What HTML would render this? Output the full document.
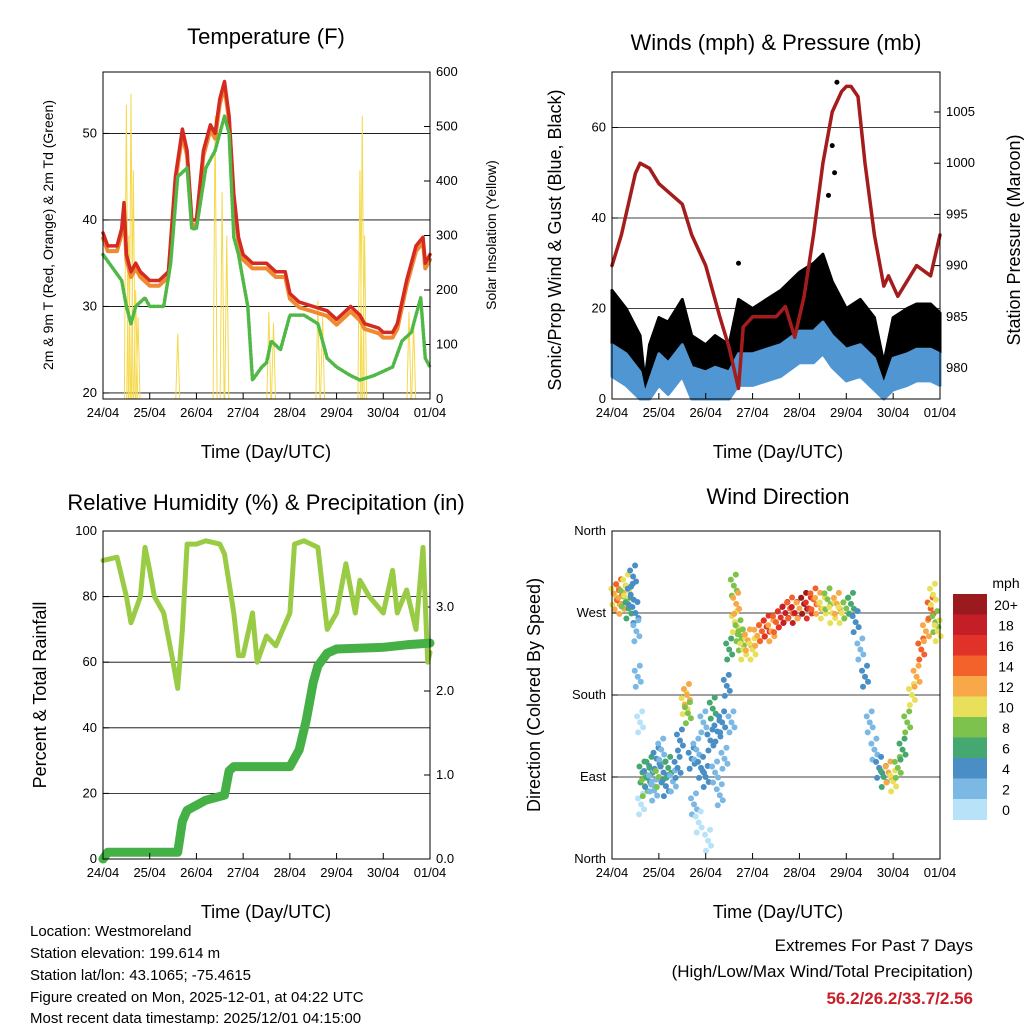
<!DOCTYPE html>
<html><head><meta charset="utf-8"><style>
body{margin:0;background:#fff}
svg{display:block;font-family:"Liberation Sans",sans-serif}
</style></head><body>
<svg id="s" width="1024" height="1024" xmlns="http://www.w3.org/2000/svg">
<rect width="1024" height="1024" fill="#fff"/>
<g id="g"></g>
<text x="266" y="44" font-size="22" text-anchor="middle">Temperature (F)</text>
<text x="776" y="50" font-size="22" text-anchor="middle">Winds (mph) &amp; Pressure (mb)</text>
<text x="266" y="510" font-size="22" text-anchor="middle">Relative Humidity (%) &amp; Precipitation (in)</text>
<text x="778" y="504" font-size="22" text-anchor="middle">Wind Direction</text>
<text x="266" y="458" font-size="18" text-anchor="middle">Time (Day/UTC)</text>
<text x="778" y="458" font-size="18" text-anchor="middle">Time (Day/UTC)</text>
<text x="266" y="918" font-size="18" text-anchor="middle">Time (Day/UTC)</text>
<text x="778" y="918" font-size="18" text-anchor="middle">Time (Day/UTC)</text>
<text transform="translate(53,235) rotate(-90)" font-size="14" text-anchor="middle">2m &amp; 9m T (Red, Orange) &amp; 2m Td (Green)</text>
<text transform="translate(496,235) rotate(-90)" font-size="14" text-anchor="middle">Solar Insolation (Yellow)</text>
<text transform="translate(561,240) rotate(-90)" font-size="18" text-anchor="middle">Sonic/Prop Wind &amp; Gust (Blue, Black)</text>
<text transform="translate(1020,240) rotate(-90)" font-size="18" text-anchor="middle">Station Pressure (Maroon)</text>
<text transform="translate(46,695) rotate(-90)" font-size="18" text-anchor="middle">Percent &amp; Total Rainfall</text>
<text transform="translate(540,695) rotate(-90)" font-size="18" text-anchor="middle">Direction (Colored By Speed)</text>
<g font-size="15">
<text x="30" y="936">Location: Westmoreland</text>
<text x="30" y="958">Station elevation: 199.614 m</text>
<text x="30" y="980">Station lat/lon: 43.1065; -75.4615</text>
<text x="30" y="1002">Figure created on Mon, 2025-12-01, at 04:22 UTC</text>
<text x="30" y="1023">Most recent data timestamp: 2025/12/01 04:15:00</text>
</g>
<g font-size="17" text-anchor="end">
<text x="973" y="951">Extremes For Past 7 Days</text>
<text x="973" y="977">(High/Low/Max Wind/Total Precipitation)</text>
<text x="973" y="1004" fill="#c8202a" font-weight="bold">56.2/26.2/33.7/2.56</text>
</g>
</svg>
<script>
// ---- data ----
const dayLabels=["24/04","25/04","26/04","27/04","28/04","29/04","30/04","01/04"];
const tempT=[0,0.1,0.3,0.4,0.45,0.5,0.6,0.7,0.8,1.0,1.2,1.4,1.55,1.7,1.8,1.9,2.0,2.15,2.3,2.4,2.5,2.6,2.7,2.8,2.9,3.0,3.2,3.5,3.7,3.9,4.0,4.2,4.5,4.8,5.0,5.3,5.5,5.6,5.9,6.0,6.2,6.3,6.5,6.7,6.85,6.9,7.0];
const tempV=[38.5,37,37,39,42,36,34,35,34,33,33,34,45,50.5,48,40,40,48,51,50,54,56,52,43,38,36,35,35,34,34,31.5,30.5,30,29.5,28.5,30,29,28,27.5,27,27,28,33,37,38,35,36];
const dewT=[0,0.2,0.4,0.5,0.6,0.7,0.9,1.0,1.3,1.45,1.6,1.8,1.9,2.0,2.2,2.4,2.6,2.7,2.8,2.9,3.0,3.1,3.2,3.4,3.5,3.6,3.8,4.0,4.3,4.6,4.8,5.0,5.3,5.5,5.8,6.0,6.2,6.4,6.6,6.8,6.9,7.0];
const dewV=[36,34.5,33,30,28,30,31,30,30,35,45,46,39,39,46,48,52,50,38,36,33,30,21.5,23,23.5,26,25,29,29,28,24,23,22,21.5,22,22.5,23,26,27,31,24,23];
const solarT=[0.5,0.55,0.6,0.65,0.7,0.75,1.6,2.4,2.55,2.65,3.55,3.65,4.6,4.7,5.5,5.55,5.6,6.55,6.65];
const solarV=[540,300,560,420,200,150,120,520,380,300,160,140,180,150,420,520,300,160,140];
const presT=[0,0.2,0.5,0.6,0.8,1.0,1.5,1.7,2.0,2.3,2.5,2.6,2.7,2.8,3.0,3.3,3.5,3.7,3.9,4.1,4.3,4.5,4.7,4.9,5.0,5.1,5.25,5.4,5.6,5.8,5.9,6.1,6.5,6.8,7.0];
const presV=[990,993,999,1000,999.5,998,996,993,990,985,982,980,978,984,985,985,985,986,983,987,993,1000,1005,1007,1007.5,1007.5,1006.5,1000,993,988,989,987,990,989,993];
const windT=[0,0.3,0.6,0.7,0.8,1.0,1.2,1.5,1.7,2.0,2.2,2.5,2.7,3.0,3.3,3.6,4.0,4.3,4.5,4.7,5.0,5.3,5.6,5.8,6.0,6.3,6.5,6.8,7.0];
const windV=[12,10,6,1,4,10,8,12,7,6,7,6,10,10,11,12,15,15,17,14,11,12,9,3,9,10,11,11,10];
const gustV=[24,20,14,4,12,18,17,22,14,12,14,12,22,20,22,24,28,30,32,26,20,22,18,8,18,20,21,21,19];
const outT=[2.7,4.62,4.7,4.75,4.8];
const outV=[30,45,56,50,70];
const rhT=[0,0.3,0.5,0.6,0.8,0.9,1.0,1.1,1.3,1.5,1.6,1.7,1.8,2.0,2.2,2.5,2.6,2.8,2.9,3.0,3.2,3.3,3.5,3.7,4.0,4.1,4.3,4.6,4.8,5.0,5.2,5.4,5.5,5.7,6.0,6.2,6.3,6.5,6.7,6.85,6.95,7.0];
const rhV=[91,92,80,72,80,95,88,80,75,60,52,70,96,96,97,96,93,75,62,62,75,60,68,65,75,96,97,95,70,75,90,75,85,80,75,88,75,82,70,95,60,63];
const prT=[0,0.1,1.6,1.7,1.8,2.2,2.6,2.7,2.8,4.0,4.2,4.35,4.5,4.6,4.8,5.0,6.0,6.5,7.0];
const prV=[0,0.08,0.08,0.45,0.58,0.7,0.76,1.05,1.1,1.1,1.3,1.65,2.1,2.3,2.45,2.5,2.52,2.55,2.57];
const dirT=[0.05,0.1,0.15,0.2,0.25,0.3,0.35,0.4,0.45,0.5,0.52,0.55,0.6,0.62,0.65,0.7,0.75,0.8,0.85,0.9,0.95,1.0,1.05,1.1,1.15,1.2,1.3,1.4,1.45,1.55,1.6,1.62,1.7,1.75,1.8,1.85,1.9,1.95,2.0,2.05,2.1,2.15,2.2,2.25,2.3,2.35,2.4,2.45,2.5,2.55,2.6,2.62,2.65,2.7,2.75,2.8,2.9,3.0,3.1,3.2,3.3,3.4,3.5,3.6,3.7,3.8,3.9,4.0,4.1,4.2,4.3,4.4,4.5,4.6,4.7,4.8,4.9,5.0,5.1,5.2,5.3,5.4,5.5,5.6,5.7,5.8,5.9,6.0,6.1,6.2,6.3,6.4,6.5,6.6,6.7,6.8,6.85,6.9,6.95];
const dirD=[290,285,295,280,288,300,275,290,310,270,250,200,150,60,95,80,90,100,85,75,110,90,120,95,80,100,85,100,130,170,180,160,110,60,120,40,100,150,90,20,130,165,95,140,70,150,110,190,230,150,300,260,280,250,240,230,240,230,245,250,255,250,260,265,270,275,270,275,280,275,285,280,275,285,270,280,270,275,280,260,230,200,150,120,100,90,95,85,100,120,150,180,200,230,250,275,290,260,250];
const dirS=[10,12,14,12,8,10,6,4,4,4,3,2,1,0,6,8,4,6,3,2,4,8,3,5,4,6,2,4,5,10,12,8,4,2,3,1,4,3,5,1,4,6,3,4,2,5,3,4,6,3,8,10,12,9,8,10,12,10,12,14,16,12,14,16,18,14,18,12,20,16,14,12,10,8,10,12,10,8,6,4,3,4,2,3,4,6,12,10,8,6,8,10,12,14,12,14,10,8,10];
const cbLabels=["20+","18","16","14","12","10","8","6","4","2","0"];
const cbColors=["#9b1a1e","#c41e26","#e03228","#f2622a","#f8a848","#e8e05a","#7dc24c","#44a870","#4a8ec6","#7cb8e4","#b8e2f7"];
// ---- helpers ----
const NS="http://www.w3.org/2000/svg";const G=document.getElementById('g');
function mk(t,a,p){const e=document.createElementNS(NS,t);for(const k in a)e.setAttribute(k,a[k]);(p||G).appendChild(e);return e;}
const P1={x0:103,x1:430,y0:72,y1:399},P2={x0:612,x1:940,y0:72,y1:399},P3={x0:103,x1:430,y0:531,y1:859},P4={x0:612,x1:940,y0:531,y1:859};
const X=(P,t)=>P.x0+t*(P.x1-P.x0)/7;
const yT=v=>399-(v-19.3)*8.65, yS=v=>399-v*327/600, yW=v=>399-v*4.525, yP=v=>368-(v-980)*10.24;
const yR=v=>859-v*3.28, yPr=v=>859-v*84, yD=d=>859-d*328/360;
function frame(P,name){
  const r=mk('rect',{x:P.x0,y:P.y0,width:P.x1-P.x0,height:P.y1-P.y0,fill:'none',stroke:'#000','stroke-width':1});
  
  
  dayLabels.forEach((l,i)=>{const x=X(P,i);mk('line',{x1:x,x2:x,y1:P.y1,y2:P.y1-6,stroke:'#000'});
    const t=mk('text',{x:x,y:P.y1+18,'font-size':13,'text-anchor':'middle'});t.textContent=l;
    
    });
}
function grid(P,vals,f,labels,side,grid){
  vals.forEach((v,i)=>{const y=f(v);
    if(grid)mk('line',{x1:P.x0,x2:P.x1,y1:y,y2:y,stroke:'#000','stroke-width':0.8});
    const x=side=='l'?P.x0:P.x1;mk('line',{x1:x,x2:x+(side=='l'?6:-6),y1:y,y2:y,stroke:'#000'});
    const t=mk('text',{x:side=='l'?P.x0-6:P.x1+6,y:y+4,'font-size':13,'text-anchor':side=='l'?'end':'start'});t.textContent=labels[i];
    
    });
}
function line(P,T,V,f,col,w,name,dash){
  const d=T.map((t,i)=>(i?'L':'M')+X(P,t).toFixed(1)+','+f(V[i]).toFixed(1)).join('');
  const p=mk('path',{d:d,fill:'none',stroke:col,'stroke-width':w,'stroke-linejoin':'round','stroke-linecap':'round'});
  if(dash)p.setAttribute('stroke-dasharray',dash);
  
  
}
function band(P,T,lo,hi,f,col,name){
  let d=T.map((t,i)=>(i?'L':'M')+X(P,t).toFixed(1)+','+f(hi[i]).toFixed(1)).join('');
  for(let i=T.length-1;i>=0;i--)d+='L'+X(P,T[i]).toFixed(1)+','+f(lo[i]).toFixed(1);
  const p=mk('path',{d:d+'Z',fill:col,stroke:col,'stroke-width':3,'stroke-linejoin':'round'});
  
  
}
// Panel 1
grid(P1,[20,30,40,50],yT,["20","30","40","50"],'l',true);
grid(P1,[0,100,200,300,400,500,600],yS,["0","100","200","300","400","500","600"],'r',false);
solarT.forEach((t,i)=>{const x=X(P1,t);const p=mk('path',{d:`M${x-2},399L${x},${yS(solarV[i])}L${x+2},399`,fill:'none',stroke:'#f5d94a','stroke-width':1});
  
  });
line(P1,tempT,tempV.map(v=>v-0.6),yT,'#f08a30',4,'temp-9m-line');
line(P1,tempT,tempV,yT,'#d42a20',3.5,'temp-2m-line');
line(P1,dewT,dewV,yT,'#4fb846',3.5,'dewpoint-line','2 2');
frame(P1,'temperature');
// Panel 2
grid(P2,[0,20,40,60],yW,["0","20","40","60"],'l',true);
grid(P2,[980,985,990,995,1000,1005],yP,["980","985","990","995","1000","1005"],'r',false);
band(P2,windT,windV.map(v=>Math.max(0,v-2)),gustV,yW,'#000','gust-band');
band(P2,windT,windV.map(v=>Math.max(0,v-7)),windV,yW,'#4f96d2','wind-band');
outT.forEach((t,i)=>{const c=mk('circle',{cx:X(P2,t),cy:yW(outV[i]),r:2.5,fill:'#000'});
  
  });
line(P2,presT,presV,yP,'#a51c1c',3.5,'pressure-line');
frame(P2,'winds');
// Panel 3
grid(P3,[0,20,40,60,80,100],yR,["0","20","40","60","80","100"],'l',true);
grid(P3,[0,1,2,3],yPr,["0.0","1.0","2.0","3.0"],'r',false);
line(P3,rhT,rhV,yR,'#99cc44',5,'rh-line');
line(P3,prT,prV,yPr,'#45b045',9,'precip-line');
frame(P3,'humidity');
// Panel 4
grid(P4,[0,90,180,270,360],yD,["North","East","South","West","North"],'l',false);
[90,180,270].forEach(d=>mk('line',{x1:P4.x0,x2:P4.x1,y1:yD(d),y2:yD(d),stroke:'#000','stroke-width':0.8}));
dirT.forEach((t,i)=>{const s=dirS[i];const b=Math.min(10,Math.floor(s/2));const col=cbColors[10-b];
  [[0,0],[3,5],[-3,-6],[2,-11],[-2,10]].forEach(o=>{const c=mk('circle',{cx:X(P4,t)+o[0],cy:yD(dirD[i])+o[1],r:3,fill:col});
  
  });});
frame(P4,'wind-direction');
// colorbar
const cbT=mk('text',{x:1006,y:588,'font-size':14,'text-anchor':'middle'});cbT.textContent='mph';


cbColors.forEach((c,i)=>{const y=594+i*20.5;const r=mk('rect',{x:953,y:y,width:34,height:21,fill:c});
  
  
  const t=mk('text',{x:1006,y:y+16,'font-size':14,'text-anchor':'middle'});
  t.textContent=cbLabels[i];
  
  });
</script>
</body></html>
